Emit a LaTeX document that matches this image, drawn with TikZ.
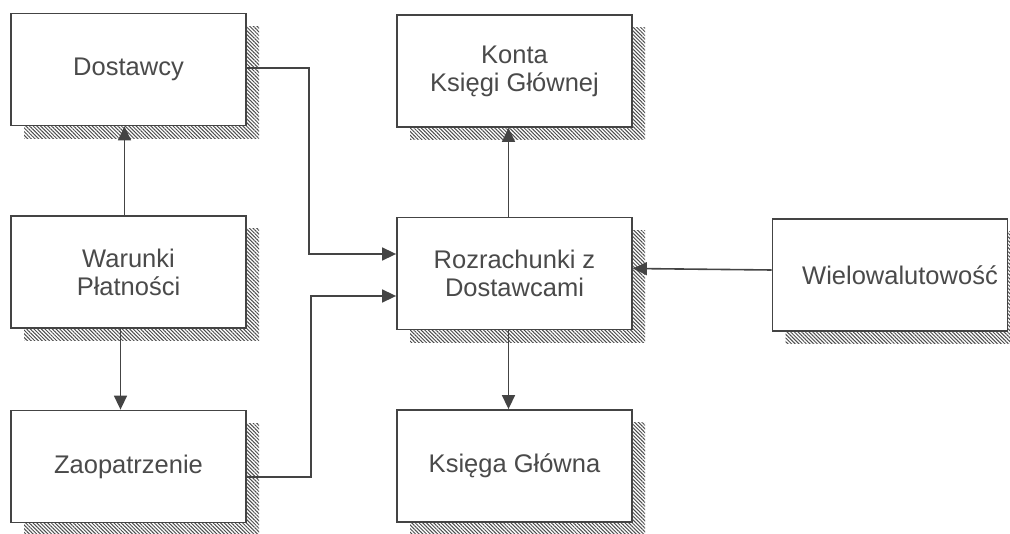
\documentclass[tikz,border=0pt]{standalone}
\usepackage{fontspec}
\setmainfont{Liberation Sans}
\usetikzlibrary{arrows.meta,patterns.meta,shadows}

\definecolor{linia}{HTML}{444444}
\definecolor{tekst}{HTML}{4A4A4A}

\tikzset{
  blok/.style={draw=linia, line width=1.8pt, fill=white, text=tekst,
    minimum width=235pt, minimum height=112pt, align=center,
    font=\fontsize{25.5}{28}\selectfont,
    general shadow={shadow xshift=13pt, shadow yshift=-13pt,
      pattern={Lines[angle=-45,distance=2.6pt,line width=1pt]},
      pattern color=black!70}},
  strz/.style={draw=linia, line width=1.6pt,
    -{Triangle[length=14pt,width=13pt]}}
}

\begin{document}
\begin{tikzpicture}[x=1pt,y=-1pt]
\useasboundingbox (0,0) rectangle (1010,534);

% lewa kolumna
\node[blok] (dost) at (128.5,69.5) {Dostawcy};
\node[blok] (waru) at (128.5,272) {Warunki\\P{\l}atno{\'s}ci};
\node[blok] (zaop) at (128.5,466.5) {Zaopatrzenie};

% srodkowa kolumna
\node[blok] (konta) at (514.5,71) {Konta\\Ksi{\k e}gi G{\l}{\'o}wnej};
\node[blok] (rozr) at (514.5,273.5) {Rozrachunki z\\Dostawcami};
\node[blok] (ksiega) at (514.5,466) {Ksi{\k e}ga G{\l}{\'o}wna};

% prawa
\node[blok] (wielo) at (890,275) {\hspace{20pt}Wielowalutowo{\'s}{\'c}};

% polaczenia
\draw[strz] ([xshift=-4pt]waru.north) -- ([xshift=-4pt]dost.south);
\draw[strz] ([xshift=-8pt]waru.south) -- ([xshift=-8pt]zaop.north);
\draw[strz] ([yshift=1.5pt]dost.east) -- ++(62,0) |- ([yshift=19.5pt]rozr.west);
\draw[strz] ([yshift=-10.5pt]zaop.east) -- ++(64,0) |- ([yshift=-22.5pt]rozr.west);
\draw[strz] ([xshift=-6pt]rozr.north) -- ([xshift=-6pt]konta.south);
\draw[strz] ([xshift=-6pt]rozr.south) -- ([xshift=-6pt]ksiega.north);
\draw[strz] ([yshift=5pt]wielo.west) -- ([yshift=5pt]rozr.east);
\end{tikzpicture}
\end{document}
